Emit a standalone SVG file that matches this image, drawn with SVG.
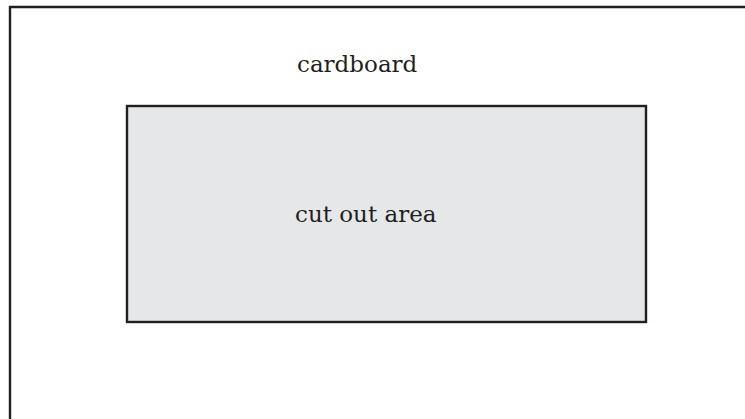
<svg xmlns="http://www.w3.org/2000/svg" width="745" height="419" viewBox="0 0 745 419">
  <style>
    .edge { fill: none; stroke: #231f20; stroke-width: 2.4; }
    .cut { fill: #e6e7e8; stroke: #231f20; stroke-width: 2.4; }
    .label { font-family: "DejaVu Serif", "Liberation Serif", serif; font-size: 23px; fill: #231f20; }
  </style>
  <rect width="745" height="419" fill="#ffffff"/>
  <!-- cardboard sheet: only top and left edges fall inside the view -->
  <g id="cardboard">
    <path class="edge" d="M10,430 V7 H760"/>
    <text class="label" x="297" y="72">cardboard</text>
  </g>
  <!-- shaded opening -->
  <g id="cut-out-area">
    <rect class="cut" x="127" y="106" width="519" height="216"/>
    <text class="label" x="295" y="222">cut out area</text>
  </g>
</svg>
